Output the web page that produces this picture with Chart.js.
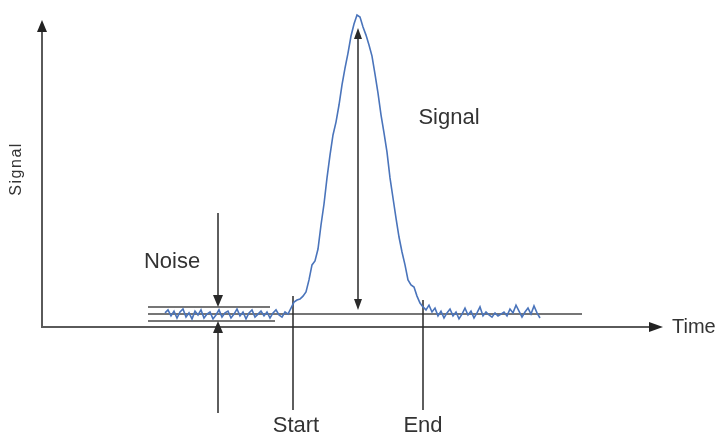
<!DOCTYPE html>
<html>
<head>
<meta charset="utf-8">
<script src="https://cdn.jsdelivr.net/npm/chart.js@4/dist/chart.umd.min.js"></script>
<style>
    body { margin: 0; background: #fff; }
    #signalChart { display: block; }
</style>
</head>
<body>
<canvas id="signalChart" width="715" height="436"></canvas>
<script>
// detector trace, sampled every 0.3 time units starting at 12.3
var timeStart = 12.3;
var timeStep = 0.3;
var signal = [
    4.7, 5.7, 3.7, 5.3, 3.0, 5.0, 6.0, 3.3, 4.7, 2.7,
    5.3, 4.0, 5.7, 3.0, 4.3, 5.0, 2.7, 4.0, 5.7, 3.3,
    4.7, 5.3, 3.0, 4.3, 6.0, 3.7, 5.0, 2.7, 4.7, 5.7,
    3.3, 4.3, 5.3, 3.7, 5.0, 3.0, 4.7, 5.7, 4.0, 3.3,
    5.0, 4.3, 6.3, 8.3, 9.0, 9.3, 10.3, 11.7, 15.7, 20.7,
    22.0, 26.0, 34.0, 41.0, 49.7, 57.3, 64.0, 68.3, 74.0, 80.7,
    86.3, 91.3, 97.0, 101.0, 104.0, 103.3, 100.0, 97.3, 94.0, 90.3,
    84.3, 78.0, 70.7, 64.7, 58.3, 49.7, 43.0, 36.3, 30.0, 25.0,
    20.7, 15.7, 14.0, 13.3, 10.3, 8.0, 6.7, 5.7, 7.3, 5.0,
    6.3, 3.7, 5.3, 3.0, 4.7, 6.0, 3.7, 5.0, 2.7, 4.3,
    6.3, 4.0, 5.3, 3.0, 4.7, 6.7, 3.7, 5.0, 4.0, 3.3,
    4.7, 3.7, 4.3, 5.0, 3.7, 6.0, 4.7, 7.3, 5.3, 3.3,
    5.0, 6.3, 4.3, 7.0, 4.7, 3.0
];

// reference levels and markers (data units)
var baseline = 4.33;
var noiseTop = 6.67;
var noiseBottom = 2.0;
var peakTime = 31.6;
var peakTop = 99.7;
var startTime = 25.1;
var endTime = 38.1;
var noiseArrowTime = 17.6;

var textLabels = [
    { text: 'Noise', t: 13.0, v: 21.7, size: 22, align: 'center' },
    { text: 'Signal', t: 40.7, v: 69.7, size: 22, align: 'center' },
    { text: 'Start', t: 25.4, v: -33.0, size: 22, align: 'center' },
    { text: 'End', t: 38.1, v: -33.0, size: 22, align: 'center' },
    { text: 'Time', t: 63.0, v: -0.2, size: 20, align: 'left' }
];

var points = [];
for (var i = 0; i < signal.length; i++) {
    points.push({ x: timeStart + i * timeStep, y: signal[i] });
}

function arrowHead(ctx, x1, y1, x2, y2, len, half) {
    var a = Math.atan2(y2 - y1, x2 - x1);
    ctx.beginPath();
    ctx.moveTo(x2, y2);
    ctx.lineTo(x2 - len * Math.cos(a) + half * Math.sin(a), y2 - len * Math.sin(a) - half * Math.cos(a));
    ctx.lineTo(x2 - len * Math.cos(a) - half * Math.sin(a), y2 - len * Math.sin(a) + half * Math.cos(a));
    ctx.closePath();
    ctx.fill();
}

var diagramPlugin = {
    id: 'diagram',
    beforeDatasetsDraw: function (chart) {
        var ctx = chart.ctx;
        var sx = chart.scales.x, sy = chart.scales.y;
        var px = function (t) { return sx.getPixelForValue(t); };
        var py = function (v) { return sy.getPixelForValue(v); };
        ctx.save();

        // axes
        ctx.strokeStyle = '#5a5a5a';
        ctx.fillStyle = '#222';
        ctx.lineWidth = 2;
        ctx.beginPath();
        ctx.moveTo(px(0), py(100));
        ctx.lineTo(px(0), py(0));
        ctx.lineTo(px(60.8), py(0));
        ctx.stroke();
        arrowHead(ctx, px(0), py(90), px(0), py(102.3), 12, 5);
        arrowHead(ctx, px(55), py(0), px(62.1), py(0), 14, 5);

        // noise band and baseline
        ctx.strokeStyle = '#4a4a4a';
        ctx.lineWidth = 1.3;
        ctx.beginPath();
        ctx.moveTo(px(10.6), py(noiseTop));
        ctx.lineTo(px(22.8), py(noiseTop));
        ctx.moveTo(px(10.6), py(baseline));
        ctx.lineTo(px(54.0), py(baseline));
        ctx.moveTo(px(10.6), py(noiseBottom));
        ctx.lineTo(px(23.3), py(noiseBottom));
        ctx.stroke();

        // start / end markers
        ctx.strokeStyle = '#2a2a2a';
        ctx.lineWidth = 1.5;
        ctx.beginPath();
        ctx.moveTo(px(startTime), py(10.3));
        ctx.lineTo(px(startTime), py(-27.7));
        ctx.moveTo(px(endTime), py(9.0));
        ctx.lineTo(px(endTime), py(-27.7));
        ctx.stroke();

        // noise arrows
        ctx.fillStyle = '#2a2a2a';
        ctx.beginPath();
        ctx.moveTo(px(noiseArrowTime), py(38));
        ctx.lineTo(px(noiseArrowTime), py(noiseTop + 3));
        ctx.moveTo(px(noiseArrowTime), py(-28.7));
        ctx.lineTo(px(noiseArrowTime), py(noiseBottom - 3));
        ctx.stroke();
        arrowHead(ctx, px(noiseArrowTime), py(38), px(noiseArrowTime), py(noiseTop), 12, 5);
        arrowHead(ctx, px(noiseArrowTime), py(-28.7), px(noiseArrowTime), py(noiseBottom), 12, 5);

        // peak height arrow
        ctx.beginPath();
        ctx.moveTo(px(peakTime), py(baseline + 3));
        ctx.lineTo(px(peakTime), py(peakTop - 3));
        ctx.stroke();
        arrowHead(ctx, px(peakTime), py(50), px(peakTime), py(peakTop), 11, 4);
        arrowHead(ctx, px(peakTime), py(50), px(peakTime), py(baseline + 1.3), 11, 4);

        // text
        ctx.fillStyle = '#333';
        ctx.textBaseline = 'middle';
        textLabels.forEach(function (l) {
            ctx.font = l.size + 'px "Liberation Sans", Arial, sans-serif';
            ctx.textAlign = l.align;
            ctx.fillText(l.text, px(l.t), py(l.v));
        });

        ctx.translate(px(-2.5), py(52.7));
        ctx.rotate(-Math.PI / 2);
        ctx.font = '16px "Liberation Sans", Arial, sans-serif';
        ctx.letterSpacing = '1.5px';
        ctx.textAlign = 'center';
        ctx.fillText('Signal', 0, 0);
        ctx.restore();
    }
};

new Chart(document.getElementById('signalChart'), {
    type: 'line',
    data: {
        datasets: [{
            label: 'Signal',
            data: points,
            borderColor: '#4a74bb',
            borderWidth: 1.6,
            pointRadius: 0,
            tension: 0,
            fill: false
        }]
    },
    options: {
        responsive: false,
        animation: false,
        layout: { padding: 0 },
        plugins: {
            legend: { display: false },
            tooltip: { enabled: false }
        },
        scales: {
            x: { type: 'linear', display: false, min: -4.2, max: 67.3 },
            y: { type: 'linear', display: false, min: -36.33, max: 109 }
        }
    },
    plugins: [diagramPlugin]
});
</script>
</body>
</html>
